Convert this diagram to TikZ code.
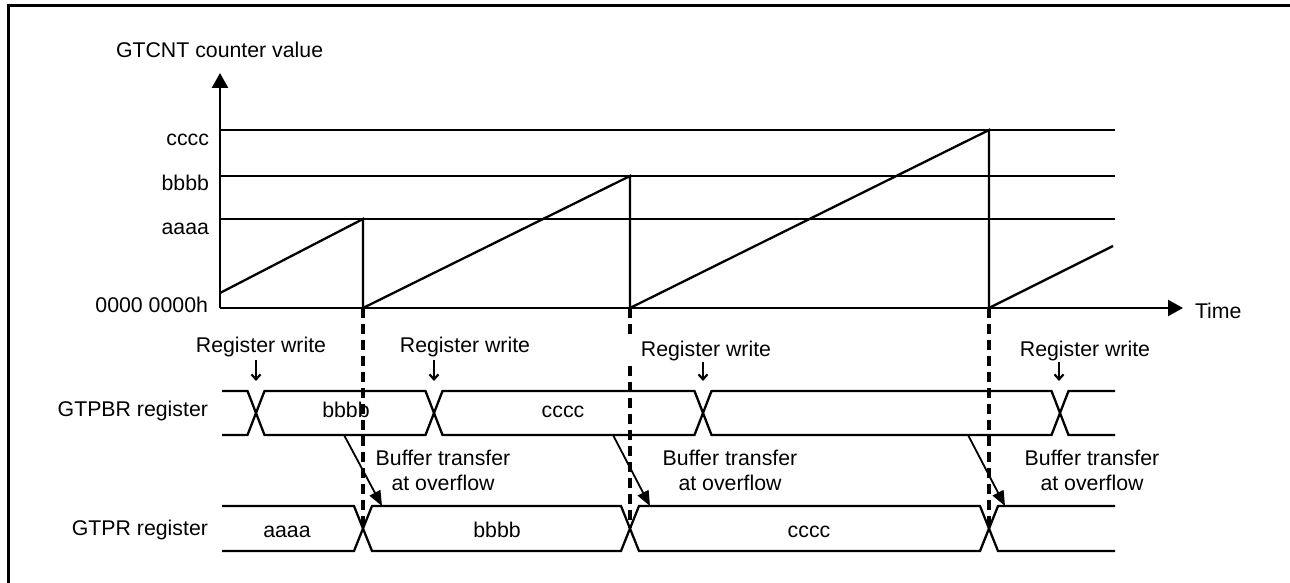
\documentclass[tikz,border=0pt]{standalone}
\usepackage{fontspec}
\setmainfont{Liberation Sans}
\usetikzlibrary{arrows.meta}
\begin{document}
\begin{tikzpicture}[x=1pt,y=-1pt,
  every node/.style={font=\fontsize{21.3}{25}\selectfont, inner sep=0pt, outer sep=0pt},
  ln/.style={line width=2.3pt},
  axis/.style={line width=2.3pt, -{Triangle[length=15pt,width=16pt]}},
  wr/.style={line width=2.2pt, -{Straight Barb[length=5pt,width=9pt]}},
  xfer/.style={line width=1.8pt, -{Triangle[length=15pt,width=12pt]}},
  ovf/.style={line width=3.2pt, dash pattern=on 10pt off 6pt},
  lbl/.style={anchor=base east},
  val/.style={anchor=base},
  buf/.style={anchor=base, align=center},
]
\useasboundingbox (0,0) rectangle (1290,583);
% frame
\draw[line width=3pt] (8.7,590) -- (8.7,5.3) -- (1295,5.3);

% axes
\coordinate (O) at (220,308);
\coordinate (Ytop) at (220,73);
\coordinate (Xend) at (1183,308);
\draw[axis] (O) -- (Ytop);
\draw[axis] (O) -- (Xend);
\node[anchor=base west] (ylab) at (116,58) {GTCNT counter value};
\node[anchor=base west] (xlab) at (1195,318) {Time};

% levels
\coordinate (Lc) at (220,130); \coordinate (Lc2) at (1115,130);
\coordinate (Lb) at (220,176); \coordinate (Lb2) at (1115,176);
\coordinate (La) at (220,219); \coordinate (La2) at (1115,219);
\draw[ln] (Lc) -- (Lc2);
\draw[ln] (Lb) -- (Lb2);
\draw[ln] (La) -- (La2);
\node[lbl] (tc) at (209,146) {cccc};
\node[lbl] (tb) at (209,190) {bbbb};
\node[lbl] (ta) at (209,234) {aaaa};
\node[lbl] (t0) at (208,312) {0000 0000h};

% sawtooth
\draw[ln, line join=miter] (220,293) -- (363,219) -- (363,308) -- (630,176) -- (630,308) -- (989,130) -- (989,308) -- (1113,246);

% overflow dashed lines
\draw[ovf] (363,308) -- (363,528);
\draw[ovf] (630,308) -- (630,336);
\draw[ovf] (630,366) -- (630,528);
\draw[ovf] (989,308) -- (989,528);

% GTPBR bus
\node[lbl] (gtpbr) at (208,416) {GTPBR register};
\draw[ln] (222,391) -- (247.5,391) -- (264.5,435) -- (425.5,435) -- (442.5,391) -- (694.5,391) -- (711.5,435) -- (1051.5,435) -- (1068.5,391) -- (1115,391);
\draw[ln] (222,435) -- (247.5,435) -- (264.5,391) -- (425.5,391) -- (442.5,435) -- (694.5,435) -- (711.5,391) -- (1051.5,391) -- (1068.5,435) -- (1115,435);
\node[val] (pb1) at (346,417) {bbbb};
\node[val] (pb2) at (563,417) {cccc};

% GTPR bus
\node[lbl] (gtpr) at (208,535) {GTPR register};
\draw[ln] (222,506) -- (354,506) -- (372,551) -- (621,551) -- (639,506) -- (980,506) -- (998,551) -- (1115,551);
\draw[ln] (222,551) -- (354,551) -- (372,506) -- (621,506) -- (639,551) -- (980,551) -- (998,506) -- (1115,506);
\node[val] (pr1) at (287,537) {aaaa};
\node[val] (pr2) at (497,537) {bbbb};
\node[val] (pr3) at (809,537) {cccc};

% register writes
\node[val] (rw1) at (261,352) {Register write};
\node[val] (rw2) at (465,352) {Register write};
\node[val] (rw3) at (706,356) {Register write};
\node[val] (rw4) at (1085,356) {Register write};
\coordinate (w1a) at (256,360); \coordinate (w1b) at (256,381);
\coordinate (w2a) at (434,360); \coordinate (w2b) at (434,381);
\coordinate (w3a) at (703,362); \coordinate (w3b) at (703,381);
\coordinate (w4a) at (1059,362); \coordinate (w4b) at (1059,381);
\draw[wr] (w1a) -- (w1b);
\draw[wr] (w2a) -- (w2b);
\draw[wr] (w3a) -- (w3b);
\draw[wr] (w4a) -- (w4b);

% buffer transfers
\coordinate (b1a) at (344,435); \coordinate (b1b) at (382,506);
\coordinate (b2a) at (613,435); \coordinate (b2b) at (650,506);
\coordinate (b3a) at (968,435); \coordinate (b3b) at (1005,506);
\draw[xfer] (b1a) -- (b1b);
\draw[xfer] (b2a) -- (b2b);
\draw[xfer] (b3a) -- (b3b);
\node[buf] (bt1) at (443,490) {Buffer transfer\\at overflow};
\node[buf] (bt2) at (730,490) {Buffer transfer\\at overflow};
\node[buf] (bt3) at (1092,490) {Buffer transfer\\at overflow};
\end{tikzpicture}
\end{document}
